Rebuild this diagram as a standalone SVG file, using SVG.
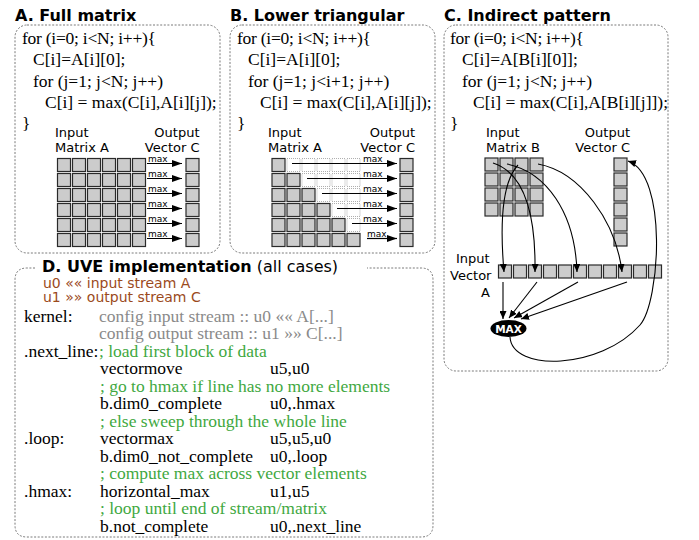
<svg xmlns="http://www.w3.org/2000/svg" xmlns:xlink="http://www.w3.org/1999/xlink" width="699" height="540" viewBox="0 0 699 540">
<style>
.frame{fill:none;stroke:#7a7a7a;stroke-width:1;stroke-dasharray:2,1.6}
.title{font-family:"DejaVu Sans",Verdana,sans-serif;font-weight:bold;font-size:16px;fill:#000}
.code{font-family:"Liberation Serif","Times New Roman",serif;font-size:17.5px;fill:#000}
.lbl{font-family:"DejaVu Sans",Verdana,sans-serif;font-size:13px;fill:#000}
.mx{font-family:"DejaVu Sans",Verdana,sans-serif;font-size:9px;fill:#000}
.cell{fill:#cccccc;stroke:#2a2a2a;stroke-width:1.2}
.empty{fill:none;stroke:#9a9a9a;stroke-width:0.8;stroke-dasharray:1,1}
.arr{stroke:#000;stroke-width:1.2;fill:none;marker-end:url(#big)}
.carr{stroke:#000;stroke-width:1.1;fill:none;marker-end:url(#sm)}
.gray{fill:#8a8a8a}
.green{fill:#3fa83f}
.brown{font-family:"DejaVu Sans",Verdana,sans-serif;font-size:14px;fill:#9b4a1c}
</style>
<defs>
<rect id="cell" width="13" height="13" class="cell"/>
<rect id="ecell" width="13" height="13" class="empty"/>
<marker id="big" markerUnits="userSpaceOnUse" markerWidth="10" markerHeight="7" refX="10" refY="3.5" orient="auto"><path d="M0,0 L10,3.5 L0,7 z" fill="#000"/></marker>
<marker id="sm" markerUnits="userSpaceOnUse" markerWidth="8" markerHeight="7" refX="8" refY="3.5" orient="auto"><path d="M0,0 L8,3.5 L0,7 z" fill="#000"/></marker>
</defs>
<rect width="699" height="540" fill="#fff"/>

<!-- Panel A -->
<g id="panel-a">
<text class="title" x="15" y="20.5">A. Full matrix</text>
<rect class="frame" x="15" y="25" width="205" height="228" rx="12"/>
<text class="code" x="22" y="44" textLength="134">for (i=0; i&lt;N; i++){</text>
<text class="code" x="33" y="65">C[i]=A[i][0];</text>
<text class="code" x="33" y="86.5" textLength="130">for (j=1; j&lt;N; j++)</text>
<text class="code" x="45" y="107.5">C[i] = max(C[i],A[i][j]);</text>
<text class="code" x="22" y="129">}</text>
<text class="lbl" x="55" y="136.5">Input</text>
<text class="lbl" x="55" y="151.5">Matrix A</text>
<text class="lbl" x="199.5" y="136.5" text-anchor="end">Output</text>
<text class="lbl" x="199.5" y="151.5" text-anchor="end">Vector C</text>
<g id="matrix-a">
<use href="#cell" x="57.5" y="158.5"/><use href="#cell" x="72.5" y="158.5"/><use href="#cell" x="87.5" y="158.5"/><use href="#cell" x="102.5" y="158.5"/><use href="#cell" x="117.5" y="158.5"/><use href="#cell" x="132.5" y="158.5"/>
<use href="#cell" x="57.5" y="173.5"/><use href="#cell" x="72.5" y="173.5"/><use href="#cell" x="87.5" y="173.5"/><use href="#cell" x="102.5" y="173.5"/><use href="#cell" x="117.5" y="173.5"/><use href="#cell" x="132.5" y="173.5"/>
<use href="#cell" x="57.5" y="188.5"/><use href="#cell" x="72.5" y="188.5"/><use href="#cell" x="87.5" y="188.5"/><use href="#cell" x="102.5" y="188.5"/><use href="#cell" x="117.5" y="188.5"/><use href="#cell" x="132.5" y="188.5"/>
<use href="#cell" x="57.5" y="203.5"/><use href="#cell" x="72.5" y="203.5"/><use href="#cell" x="87.5" y="203.5"/><use href="#cell" x="102.5" y="203.5"/><use href="#cell" x="117.5" y="203.5"/><use href="#cell" x="132.5" y="203.5"/>
<use href="#cell" x="57.5" y="218.5"/><use href="#cell" x="72.5" y="218.5"/><use href="#cell" x="87.5" y="218.5"/><use href="#cell" x="102.5" y="218.5"/><use href="#cell" x="117.5" y="218.5"/><use href="#cell" x="132.5" y="218.5"/>
<use href="#cell" x="57.5" y="233.5"/><use href="#cell" x="72.5" y="233.5"/><use href="#cell" x="87.5" y="233.5"/><use href="#cell" x="102.5" y="233.5"/><use href="#cell" x="117.5" y="233.5"/><use href="#cell" x="132.5" y="233.5"/>
</g>
<g id="vector-c-a">
<use href="#cell" x="186" y="158.5"/><use href="#cell" x="186" y="173.5"/><use href="#cell" x="186" y="188.5"/><use href="#cell" x="186" y="203.5"/><use href="#cell" x="186" y="218.5"/><use href="#cell" x="186" y="233.5"/>
</g>
<text class="mx" x="148" y="161.5">max</text><text class="mx" x="148" y="176.5">max</text><text class="mx" x="148" y="191.5">max</text><text class="mx" x="148" y="206.5">max</text><text class="mx" x="148" y="221.5">max</text><text class="mx" x="148" y="236.5">max</text>
</g>

<!-- Panel B -->
<g id="panel-b">
<text class="title" x="230" y="20.5">B. Lower triangular</text>
<rect class="frame" x="230" y="25" width="205" height="228" rx="12"/>
<text class="code" x="237" y="44" textLength="134">for (i=0; i&lt;N; i++){</text>
<text class="code" x="248" y="65">C[i]=A[i][0];</text>
<text class="code" x="248" y="86.5">for (j=1; j&lt;i+1; j++)</text>
<text class="code" x="260" y="107.5">C[i] = max(C[i],A[i][j]);</text>
<text class="code" x="237" y="129">}</text>
<text class="lbl" x="268" y="136.5">Input</text>
<text class="lbl" x="268" y="151.5">Matrix A</text>
<text class="lbl" x="415" y="136.5" text-anchor="end">Output</text>
<text class="lbl" x="415" y="151.5" text-anchor="end">Vector C</text>
<g id="matrix-b-tri">
<use href="#cell" x="272" y="158.5"/><use href="#ecell" x="287" y="158.5"/><use href="#ecell" x="302" y="158.5"/><use href="#ecell" x="317" y="158.5"/><use href="#ecell" x="332" y="158.5"/><use href="#ecell" x="347" y="158.5"/>
<use href="#cell" x="272" y="173.5"/><use href="#cell" x="287" y="173.5"/><use href="#ecell" x="302" y="173.5"/><use href="#ecell" x="317" y="173.5"/><use href="#ecell" x="332" y="173.5"/><use href="#ecell" x="347" y="173.5"/>
<use href="#cell" x="272" y="188.5"/><use href="#cell" x="287" y="188.5"/><use href="#cell" x="302" y="188.5"/><use href="#ecell" x="317" y="188.5"/><use href="#ecell" x="332" y="188.5"/><use href="#ecell" x="347" y="188.5"/>
<use href="#cell" x="272" y="203.5"/><use href="#cell" x="287" y="203.5"/><use href="#cell" x="302" y="203.5"/><use href="#cell" x="317" y="203.5"/><use href="#ecell" x="332" y="203.5"/><use href="#ecell" x="347" y="203.5"/>
<use href="#cell" x="272" y="218.5"/><use href="#cell" x="287" y="218.5"/><use href="#cell" x="302" y="218.5"/><use href="#cell" x="317" y="218.5"/><use href="#cell" x="332" y="218.5"/><use href="#ecell" x="347" y="218.5"/>
<use href="#cell" x="272" y="233.5"/><use href="#cell" x="287" y="233.5"/><use href="#cell" x="302" y="233.5"/><use href="#cell" x="317" y="233.5"/><use href="#cell" x="332" y="233.5"/><use href="#cell" x="347" y="233.5"/>
</g>
<g id="vector-c-b">
<use href="#cell" x="400" y="158.5"/><use href="#cell" x="400" y="173.5"/><use href="#cell" x="400" y="188.5"/><use href="#cell" x="400" y="203.5"/><use href="#cell" x="400" y="218.5"/><use href="#cell" x="400" y="233.5"/>
</g>
<text class="mx" x="363" y="161.5">max</text><text class="mx" x="363" y="176.5">max</text><text class="mx" x="363" y="191.5">max</text><text class="mx" x="363" y="206.5">max</text><text class="mx" x="363" y="221.5">max</text><text class="mx" x="367" y="236.5">max</text>
</g>

<!-- Panel C -->
<g id="panel-c">
<text class="title" x="444" y="20.5">C. Indirect pattern</text>
<rect class="frame" x="444" y="25" width="224" height="346" rx="12"/>
<text class="code" x="450" y="44" textLength="134">for (i=0; i&lt;N; i++){</text>
<text class="code" x="462" y="65">C[i]=A[B[i][0]];</text>
<text class="code" x="462" y="86.5" textLength="130">for (j=1; j&lt;N; j++)</text>
<text class="code" x="473" y="107.5">C[i] = max(C[i],A[B[i][j]]);</text>
<text class="code" x="450" y="129">}</text>
<text class="lbl" x="486" y="136.5">Input</text>
<text class="lbl" x="486" y="151.5">Matrix B</text>
<text class="lbl" x="630" y="136.5" text-anchor="end">Output</text>
<text class="lbl" x="630" y="151.5" text-anchor="end">Vector C</text>
<text class="lbl" x="456" y="263">Input</text>
<text class="lbl" x="450" y="280">Vector</text>
<text class="lbl" x="481" y="297">A</text>
<g id="matrix-b">
<use href="#cell" x="485" y="158"/><use href="#cell" x="500" y="158"/><use href="#cell" x="515" y="158"/><use href="#cell" x="530" y="158"/>
<use href="#cell" x="485" y="173"/><use href="#cell" x="500" y="173"/><use href="#cell" x="515" y="173"/><use href="#cell" x="530" y="173"/>
<use href="#cell" x="485" y="188"/><use href="#cell" x="500" y="188"/><use href="#cell" x="515" y="188"/><use href="#cell" x="530" y="188"/>
<use href="#cell" x="485" y="203"/><use href="#cell" x="500" y="203"/><use href="#cell" x="515" y="203"/><use href="#cell" x="530" y="203"/>
</g>
<g id="vector-c-c">
<use href="#cell" x="614" y="158"/><use href="#cell" x="614" y="173"/><use href="#cell" x="614" y="188"/><use href="#cell" x="614" y="203"/><use href="#cell" x="614" y="218"/><use href="#cell" x="614" y="233"/>
</g>
<g id="vector-a">
<use href="#cell" x="498.5" y="265"/><use href="#cell" x="513.5" y="265"/><use href="#cell" x="528.5" y="265"/><use href="#cell" x="543.5" y="265"/><use href="#cell" x="558.5" y="265"/><use href="#cell" x="573.5" y="265"/><use href="#cell" x="588.5" y="265"/><use href="#cell" x="603.5" y="265"/><use href="#cell" x="618.5" y="265"/><use href="#cell" x="633.5" y="265"/><use href="#cell" x="648.5" y="265"/>
</g>
<g id="max-node">
<ellipse cx="508.5" cy="328.5" rx="18" ry="8.5" fill="#000"/>
<text x="508.5" y="332.5" text-anchor="middle" font-family="DejaVu Sans,Verdana,sans-serif" font-weight="bold" font-size="10.5" fill="#fff">MAX</text>
</g>
</g>

<!-- Connectors -->
<g id="connectors">
<line class="arr" x1="147" y1="163.5" x2="182" y2="163.5"/>
<line class="arr" x1="147" y1="178.5" x2="182" y2="178.5"/>
<line class="arr" x1="147" y1="193.5" x2="182" y2="193.5"/>
<line class="arr" x1="147" y1="208.5" x2="182" y2="208.5"/>
<line class="arr" x1="147" y1="223.5" x2="182" y2="223.5"/>
<line class="arr" x1="147" y1="238.5" x2="182" y2="238.5"/>
<line class="arr" x1="292" y1="163.5" x2="397" y2="163.5"/>
<line class="arr" x1="307" y1="178.5" x2="397" y2="178.5"/>
<line class="arr" x1="322" y1="193.5" x2="397" y2="193.5"/>
<line class="arr" x1="337" y1="208.5" x2="397" y2="208.5"/>
<line class="arr" x1="352" y1="223.5" x2="397" y2="223.5"/>
<line class="arr" x1="367" y1="238.5" x2="397" y2="238.5"/>
<path class="carr" d="M518,165 C504,180 499,215 504,272"/>
<path class="carr" d="M493,163 C521,172 536,205 535,272"/>
<path class="carr" d="M507,164 C546,172 575,212 577,272"/>
<path class="carr" d="M538,164 C581,172 616,222 622,272"/>
<line class="carr" x1="503" y1="282" x2="503" y2="319"/>
<line class="carr" x1="537" y1="282" x2="509" y2="318"/>
<line class="carr" x1="578" y1="282" x2="514" y2="318"/>
<line class="carr" x1="627" y1="282" x2="521" y2="319"/>
<path class="carr" d="M510,337 C512,372 600,370 640,325 C660,302 668,175 628,161"/>
</g>

<!-- Panel D -->
<g id="panel-d">
<path class="frame" d="M35,268 L27,268 Q15,268 15,280 L15,525 Q15,537 27,537 L421,537 Q433,537 433,525 L433,280 Q433,268 421,268 L367,268"/>
<text x="42" y="272" font-family="DejaVu Sans,Verdana,sans-serif" font-size="16"><tspan font-weight="bold">D. UVE implementation</tspan> (all cases)</text>
<text class="brown" x="43" y="288">u0 «« input stream A</text>
<text class="brown" x="43" y="302">u1 »» output stream C</text>
<text class="code" x="24" y="322">kernel:</text>
<text class="code gray" x="99" y="322">config input stream :: u0 «« A[...]</text>
<text class="code gray" x="99" y="339">config output stream :: u1 »» C[...]</text>
<text class="code" x="24" y="356.5">.next_line:</text>
<text class="code green" x="99" y="356.5">; load first block of data</text>
<text class="code" x="100" y="374">vectormove</text>
<text class="code" x="270" y="374">u5,u0</text>
<text class="code green" x="100" y="391.5">; go to hmax if line has no more elements</text>
<text class="code" x="100" y="409">b.dim0_complete</text>
<text class="code" x="270" y="409">u0,.hmax</text>
<text class="code green" x="100" y="426.5">; else sweep through the whole line</text>
<text class="code" x="24" y="444">.loop:</text>
<text class="code" x="100" y="444">vectormax</text>
<text class="code" x="270" y="444">u5,u5,u0</text>
<text class="code" x="100" y="461.5">b.dim0_not_complete</text>
<text class="code" x="270" y="461.5">u0,.loop</text>
<text class="code green" x="100" y="479">; compute max across vector elements</text>
<text class="code" x="24" y="496.5">.hmax:</text>
<text class="code" x="100" y="496.5">horizontal_max</text>
<text class="code" x="270" y="496.5">u1,u5</text>
<text class="code green" x="100" y="514">; loop until end of stream/matrix</text>
<text class="code" x="100" y="531.5">b.not_complete</text>
<text class="code" x="270" y="531.5">u0,.next_line</text>
</g>
</svg>
